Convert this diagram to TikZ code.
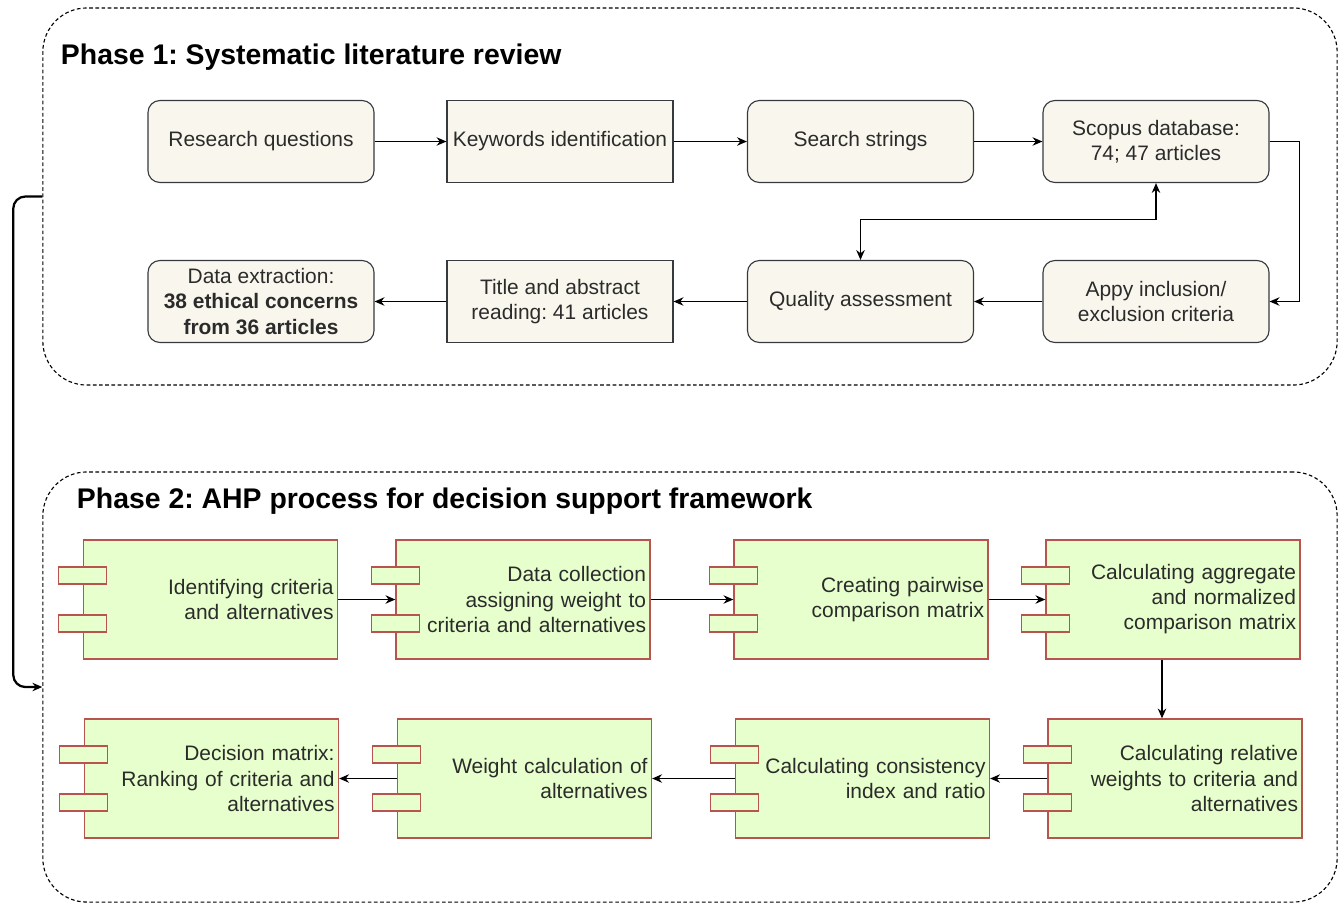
\documentclass[tikz,border=0pt]{standalone}
\usepackage{fontspec}
\setmainfont{Liberation Sans}
\usetikzlibrary{arrows.meta,calc}
\frenchspacing

\definecolor{cream}{HTML}{F9F7ED}
\definecolor{creamline}{HTML}{36393D}
\definecolor{compfill}{HTML}{E6FFCC}
\definecolor{compline}{HTML}{B85450}
\definecolor{textgray}{HTML}{2B2B2B}

\newcommand{\bodyfont}{\fontsize{14.9}{17.8}\selectfont}
\newcommand{\titlefont}{\fontsize{20.2}{24}\selectfont\bfseries}

\tikzset{
  phasebox/.style={draw, line width=0.8pt, dash pattern=on 2.6pt off 1.8pt,
    rounded corners=1.1cm, minimum width=32.35cm},
  stepbox/.style={draw=creamline, fill=cream, line width=0.8pt, rounded corners=0.3cm,
    minimum width=5.65cm, minimum height=2.05cm, align=center, text=textgray, font=\bodyfont},
  stepsq/.style={stepbox, rounded corners=0pt},
  comp/.style={draw=compline, fill=compfill, line width=0.9pt, minimum height=2.975cm,
    text width=6.15cm, inner xsep=0.1cm, align=right, text=textgray, font=\bodyfont},
  port/.style={draw=compline, fill=compfill, line width=0.9pt},
  arr/.style={-{Stealth[length=7pt,width=6pt]}, line width=0.8pt},
}

% component box with two ports on its left side
\newcommand{\comp}[3]{%
  \node[comp] (#1) at (#2) {#3};
  \foreach \dy in {-24,24}
    \draw[port] ($(#1.west)+(-24,\dy-8.5)$) rectangle ++(48,17);
}

\begin{document}
\begin{tikzpicture}[x=0.025cm, y=-0.025cm]
  \useasboundingbox (0,0) rectangle (1342,904);

  % Phase 1
  \node[phasebox, minimum height=9.425cm] (ph1) at (690,196.5) {};
  \node[anchor=west, font=\titlefont] (t1) at (56,57.5) {Phase 1: Systematic literature review};

  \node[stepbox] (rq) at (261,141.5) {Research questions};
  \node[stepsq]  (kw) at (560,141.5) {Keywords identification};
  \node[stepbox] (ss) at (860.5,141.5) {Search strings};
  \node[stepbox] (sc) at (1156,141.5) {Scopus database:\\74; 47 articles};

  \node[stepbox] (de) at (261,301.5) {Data extraction:\\\textbf{38 ethical concerns}\\\textbf{from 36 articles}};
  \node[stepsq]  (ta) at (560,301.5) {Title and abstract\\reading: 41 articles};
  \node[stepbox] (qa) at (860.5,301.5) {Quality assessment};
  \node[stepbox] (ap) at (1156,301.5) {Appy inclusion/\\exclusion criteria};

  \draw[arr] (rq) -- (kw);
  \draw[arr] (kw) -- (ss);
  \draw[arr] (ss) -- (sc);
  \draw[arr] (sc.east) -- ++(30,0) |- (ap.east);
  \draw[arr] (ap) -- (qa);
  \draw[arr] (qa) -- (ta);
  \draw[arr] (ta) -- (de);
  \draw[arr, {Stealth[length=7pt,width=6pt]}-{Stealth[length=7pt,width=6pt]}]
    (sc.south) -- ++(0,36) -| (qa.north);

  % Phase 2
  \node[phasebox, minimum height=10.75cm] (ph2) at (690,687) {};
  \node[anchor=west, font=\titlefont] (t2) at (72,501.5) {Phase 2: AHP process for decision support framework};

  \comp{c1}{210.5,599.5}{Identifying criteria\\and alternatives}
  \comp{c2}{523,599.5}{Data collection\\assigning weight to\\criteria and alternatives}
  \comp{c3}{861,599.5}{Creating pairwise\\comparison matrix}
  \comp{c4}{1173,599.5}{Calculating aggregate\\and normalized\\comparison matrix}

  \comp{c5}{211.5,778.5}{Decision matrix:\\Ranking of criteria and\\alternatives}
  \comp{c6}{524.5,778.5}{Weight calculation of\\alternatives}
  \comp{c7}{862.5,778.5}{Calculating consistency\\index and ratio}
  \comp{c8}{1175,778.5}{Calculating relative\\weights to criteria and\\alternatives}

  \draw[arr] (c1) -- (c2.west);
  \draw[arr] (c2) -- (c3.west);
  \draw[arr] (c3) -- (c4.west);
  \draw[arr] ([xshift=-0.275cm]c4.south) -- ([xshift=-0.275cm]c4.south |- c8.north);
  \draw[arr] (c8.west) -- (c7);
  \draw[arr] (c7.west) -- (c6);
  \draw[arr] (c6.west) -- (c5);

  % link between the phases
  \draw[arr, line width=1.6pt, rounded corners=0.3cm] (ph1.west) -- ++(-29,0) |- (ph2.west);
\end{tikzpicture}
\end{document}
